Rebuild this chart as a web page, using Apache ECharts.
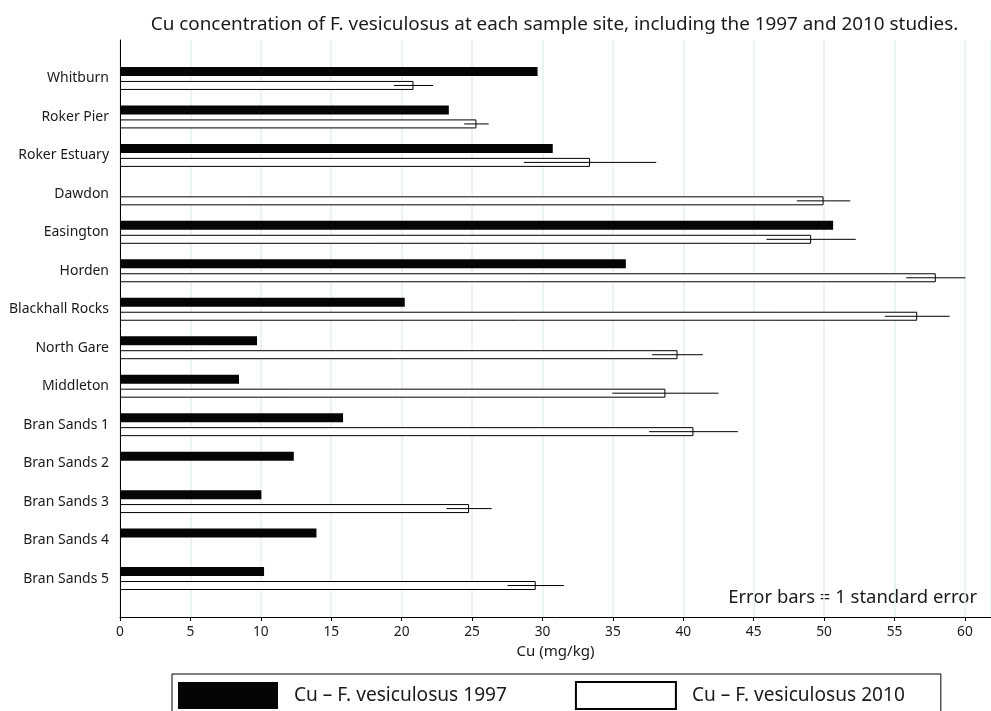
<!DOCTYPE html>
<html>
<head>
<meta charset="utf-8">
<script src="https://cdn.jsdelivr.net/npm/echarts@6/dist/echarts.min.js"></script>
<style>
html,body{margin:0;padding:0;background:#fff;}
#chart{width:991px;height:711px;}
</style>
</head>
<body>
<div id="chart"></div>
<script>
// ---- data ----
const sites = ['Whitburn', 'Roker Pier', 'Roker Estuary', 'Dawdon', 'Easington', 'Horden',
  'Blackhall Rocks', 'North Gare', 'Middleton', 'Bran Sands 1', 'Bran Sands 2',
  'Bran Sands 3', 'Bran Sands 4', 'Bran Sands 5'];
const cu1997 = [29.65, 23.35, 30.73, null, 50.64, 35.92, 20.22, 9.73, 8.45, 15.84, 12.34, 10.04, 13.95, 10.23];
const cu2010 = [20.84, 25.31, 33.38, 49.96, 49.08, 57.93, 56.61, 39.59, 38.73, 40.72, null, 24.79, null, 29.52];
const se2010 = [1.39, 0.87, 4.70, 1.90, 3.17, 2.10, 2.30, 1.80, 3.77, 3.15, null, 1.60, null, 2.00];
const xTicks = [0, 5, 10, 15, 20, 25, 30, 35, 40, 45, 50, 55, 60];
const seriesNames = ['Cu \u2013 F. vesiculosus 1997', 'Cu \u2013 F. vesiculosus 2010'];
const titleText = 'Cu concentration of F. vesiculosus at each sample site, including the 1997 and 2010 studies.';
const noteText = 'Error bars = 1 standard error';
const xName = 'Cu (mg/kg)';

// ---- font sizing helper ----
const FONT = '"Noto Sans", "Open Sans", sans-serif';
const mctx = document.createElement('canvas').getContext('2d');
function fit(text, target) {
  mctx.font = '100px ' + FONT;
  return +(100 * target / mctx.measureText(text).width).toFixed(2);
}
const titleSize = fit(titleText, 808);
const catSize = fit('Blackhall Rocks', 100);
const tickSize = fit('25', 15.7);
const noteSize = fit(noteText, 249);
const nameSize = fit(xName, 78);
const legendSize = fit(seriesNames[1], 213);

// padded category list so bands sit inside the plot frame
const cats = [''].concat(sites, ['']);
const pad = a => [null].concat(a, [null]);
const errData = [];
cu2010.forEach((v, i) => { if (v != null && se2010[i] != null) errData.push([v, se2010[i], i + 1]); });

const chart = echarts.init(document.getElementById('chart'), null, {renderer: 'canvas'});
chart.setOption({
  animation: false,
  backgroundColor: '#fff',
  textStyle: {fontFamily: FONT},
  grid: {left: 120, right: 0, top: 40, bottom: 94, containLabel: false},
  graphic: [
    {type: 'text', x: 554.5, y: 24.5, style: {text: titleText, font: titleSize + 'px ' + FONT, fill: '#1a1a1a', textAlign: 'center', textVerticalAlign: 'middle'}},
    {type: 'text', x: 977, y: 598, style: {text: noteText, font: noteSize + 'px ' + FONT, fill: '#1a1a1a', textAlign: 'right', textVerticalAlign: 'middle'}}
  ],
  legend: {
    left: 172, top: 674,
    orient: 'horizontal',
    padding: [7, 36, 7, 6],
    borderColor: '#000', borderWidth: 1,
    itemWidth: 100, itemHeight: 27, itemGap: 68,
    icon: 'rect',
    selectedMode: false,
    data: seriesNames,
    textStyle: {fontSize: legendSize, color: '#1a1a1a', fontFamily: FONT, padding: [2, 0, 0, 11]}
  },
  xAxis: {
    type: 'value', min: 0, max: 61.85, interval: 5,
    name: xName, nameLocation: 'middle', nameGap: 27,
    nameTextStyle: {fontSize: nameSize, color: '#1a1a1a'},
    axisLine: {show: true, lineStyle: {color: '#000', width: 1}},
    axisTick: {show: true, length: 4, lineStyle: {color: '#000'}},
    axisLabel: {fontSize: tickSize, color: '#1a1a1a', margin: 8, showMaxLabel: false,
      formatter: v => xTicks.indexOf(v) >= 0 ? String(v) : ''},
    splitLine: {show: true, lineStyle: {color: '#e4eff3', width: 1.5}}
  },
  yAxis: {
    type: 'category', data: cats, inverse: true, boundaryGap: false,
    axisLine: {show: true, lineStyle: {color: '#000', width: 1}},
    axisTick: {show: false},
    axisLabel: {fontSize: catSize, color: '#1a1a1a', margin: 11, padding: [3, 0, 0, 0]},
    splitLine: {show: false}
  },
  series: [
    {name: seriesNames[0], type: 'bar', data: pad(cu1997), barWidth: 9, barGap: '55%',
      itemStyle: {color: '#050505'}, z: 2},
    {name: seriesNames[1], type: 'bar', data: pad(cu2010), barWidth: 9,
      itemStyle: {color: '#fff', borderColor: '#000', borderWidth: 1}, z: 2},
    {name: 'se', type: 'custom', data: errData, z: 5,
      encode: {x: 0, y: 2},
      renderItem: function (params, api) {
        const m = api.value(0), s = api.value(1), c = api.value(2);
        const p1 = api.coord([m - s, c]);
        const p2 = api.coord([m + s, c]);
        const off = 7;
        return {type: 'line', shape: {x1: p1[0], y1: p1[1] + off, x2: p2[0], y2: p2[1] + off},
          style: {stroke: '#000', lineWidth: 1}};
      }}
  ]
});
</script>
</body>
</html>
